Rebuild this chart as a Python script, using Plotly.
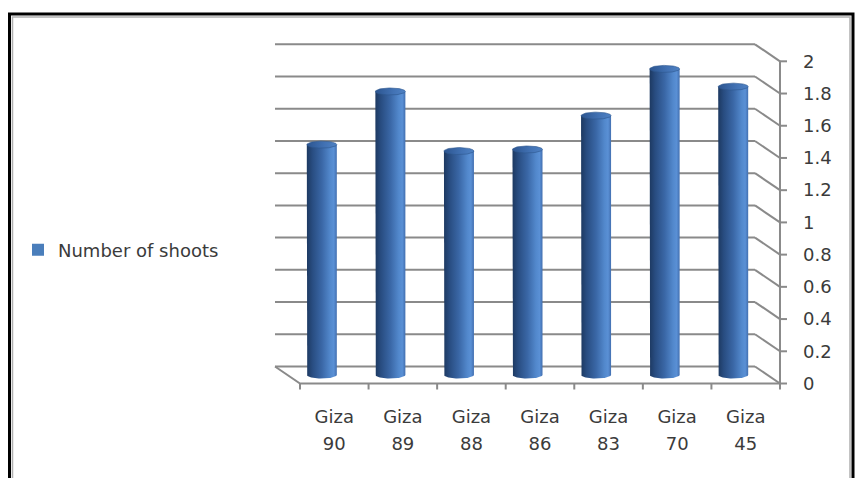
import numpy as np
import plotly.graph_objects as go

# ---- data -------------------------------------------------------------
categories = ["Giza 90", "Giza 89", "Giza 88", "Giza 86", "Giza 83", "Giza 70", "Giza 45"]
shoots = [1.43, 1.76, 1.39, 1.40, 1.61, 1.90, 1.79]
series_name = "Number of shoots"
y_ticks = [0, 0.2, 0.4, 0.6, 0.8, 1.0, 1.2, 1.4, 1.6, 1.8, 2.0]
y_tick_text = ["0", "0.2", "0.4", "0.6", "0.8", "1", "1.2", "1.4", "1.6", "1.8", "2"]

# ---- page / projection set-up ------------------------------------------
W, H = 859, 478
M_L, M_R, M_T, M_B = 250, 59, 30, 78
PLOT_W, PLOT_H = W - M_L - M_R, H - M_T - M_B

PX_PER_X = 68.57          # pixels per category slot
PX_PER_Y = 161.1          # pixels per value unit
DEPTH_X = 25 / PX_PER_X   # oblique shift from back wall to front edge
DEPTH_Y = -17 / PX_PER_Y
BAR_HALF = 15 / PX_PER_X  # cylinder radius (screen x)
CAP_RY = 3.5 / PX_PER_Y   # cylinder ellipse half height

X0 = -0.5 - 25 / PX_PER_X
X_RANGE = [X0, X0 + PLOT_W / PX_PER_X]
Y1 = (366.5 - M_T) / PX_PER_Y
Y_RANGE = [Y1 - PLOT_H / PX_PER_Y, Y1]

n = len(categories)
x_left, x_right = -0.5, n - 0.5
y_max = y_ticks[-1]

GRID = "#8a8a8a"
TEXT = "#3b3b3b"
FONT = "DejaVu Sans"

fig = go.Figure()


def seg_trace(xs, ys, color=GRID, width=2):
    return go.Scatter(x=xs, y=ys, mode="lines", line=dict(color=color, width=width),
                      hoverinfo="skip", showlegend=False)


# back wall gridlines + right side wall diagonals
gx, gy, dx_, dy_ = [], [], [], []
for v in y_ticks:
    gx += [x_left, x_right, None]
    gy += [v, v, None]
    dx_ += [x_right, x_right + DEPTH_X, None]
    dy_ += [v, v + DEPTH_Y, None]
fig.add_trace(seg_trace(gx, gy))
fig.add_trace(seg_trace(dx_, dy_))

# floor: left edge and front edge
fig.add_trace(seg_trace([x_left, x_left + DEPTH_X, x_right + DEPTH_X],
                        [0, DEPTH_Y, DEPTH_Y]))

# front value axis with ticks
ax_x = x_right + DEPTH_X
tx, ty = [ax_x, ax_x, None], [DEPTH_Y, y_max + DEPTH_Y, None]
for v in y_ticks:
    tx += [ax_x, ax_x + 7 / PX_PER_X, None]
    ty += [v + DEPTH_Y, v + DEPTH_Y, None]
for k in range(n + 1):
    xk = x_left + k + DEPTH_X
    tx += [xk, xk, None]
    ty += [DEPTH_Y, DEPTH_Y - 6 / PX_PER_Y, None]
fig.add_trace(seg_trace(tx, ty))

# cylinders
body_scale = [[0.0, "#1d3961"], [0.18, "#284c80"], [0.5, "#3a67a6"],
              [0.78, "#5288cc"], [0.9, "#5a90d5"], [1.0, "#426fb0"]]
cap_scale = [[0.0, "#2c5590"], [0.6, "#4272b4"], [1.0, "#4f82c4"]]
t_low = np.linspace(np.pi, 2 * np.pi, 40)
t_full = np.linspace(0, 2 * np.pi, 80)
for i, v in enumerate(shoots):
    xc = i + DEPTH_X / 2
    y0 = DEPTH_Y / 2
    yt = v + DEPTH_Y / 2
    bx = [xc - BAR_HALF] + list(xc + BAR_HALF * np.cos(t_low)) + [xc + BAR_HALF, xc - BAR_HALF]
    by = [yt] + list(y0 + CAP_RY * np.sin(t_low)) + [yt, yt]
    fig.add_trace(go.Scatter(x=bx, y=by, mode="lines", fill="toself",
                             line=dict(width=0),
                             fillgradient=dict(type="horizontal", colorscale=body_scale),
                             hoverinfo="skip", showlegend=False))
    cx = xc + BAR_HALF * np.cos(t_full)
    cy = yt + CAP_RY * np.sin(t_full)
    fig.add_trace(go.Scatter(x=cx, y=cy, mode="lines", fill="toself",
                             line=dict(width=0.6, color="#2d578f"),
                             fillgradient=dict(type="horizontal", colorscale=cap_scale),
                             hoverinfo="skip", showlegend=False))

# legend entry
fig.add_trace(go.Scatter(x=[None], y=[None], mode="markers", name=series_name,
                         marker=dict(symbol="square", size=12, color="#4a7ebb"),
                         showlegend=True))

# category labels on two lines: name on one axis, number on an overlaid one
first_line = [c.split(" ")[0] for c in categories]
second_line = [c.split(" ")[1] for c in categories]
label_pos = [i + DEPTH_X for i in range(n)]

fig.update_layout(
    width=W, height=H,
    margin=dict(l=M_L, r=M_R, t=M_T, b=M_B),
    paper_bgcolor="white", plot_bgcolor="white",
    font=dict(family=FONT, color=TEXT, size=18),
    xaxis=dict(range=X_RANGE, showgrid=False, zeroline=False, showline=False,
               tickvals=label_pos, ticktext=first_line, ticks="",
               ticklabelstandoff=4, tickfont=dict(size=18, family=FONT, color=TEXT)),
    xaxis2=dict(range=X_RANGE, overlaying="x", side="bottom", anchor="y",
                showgrid=False, zeroline=False, showline=False,
                tickvals=label_pos, ticktext=second_line, ticks="",
                ticklabelstandoff=31, tickfont=dict(size=18, family=FONT, color=TEXT)),
    yaxis=dict(range=Y_RANGE, showgrid=False, zeroline=False, showline=False,
               showticklabels=False, ticks=""),
    yaxis2=dict(range=[Y_RANGE[0] - DEPTH_Y, Y_RANGE[1] - DEPTH_Y], overlaying="y",
                anchor="free", side="right",
                position=(ax_x - X_RANGE[0]) / (X_RANGE[1] - X_RANGE[0]),
                showgrid=False, zeroline=False, showline=False, ticks="",
                tickvals=y_ticks, ticktext=y_tick_text, ticklabelstandoff=22,
                tickfont=dict(size=18, family=FONT, color=TEXT)),
    legend=dict(x=(18 - M_L) / PLOT_W, y=(H - M_B - 250) / PLOT_H,
                xanchor="left", yanchor="middle", bgcolor="rgba(0,0,0,0)",
                font=dict(size=18, family=FONT, color=TEXT)),
    showlegend=True,
)

# anchor x2 to a dummy invisible trace so the overlaid axis is drawn
fig.add_trace(go.Scatter(x=[None], y=[None], xaxis="x2", yaxis="y2",
                         showlegend=False, hoverinfo="skip"))


def px_to_paper(px, py):
    return (px - M_L) / PLOT_W, (H - M_B - py) / PLOT_H


# chart frame
fx0, fy1 = px_to_paper(9.5, 14)
fx1, fy0 = px_to_paper(853, 495)
fig.add_shape(type="rect", xref="paper", yref="paper", x0=fx0, x1=fx1, y0=fy0, y1=fy1,
              line=dict(color="black", width=3), layer="above")
gx0, gy1 = px_to_paper(12.5, 17)
gx1, gy0 = px_to_paper(850, 495)
fig.add_shape(type="rect", xref="paper", yref="paper", x0=gx0, x1=gx1, y0=gy0, y1=gy1,
              line=dict(color="#b0b0b0", width=1.5), layer="above")

fig.write_html("out.html")
